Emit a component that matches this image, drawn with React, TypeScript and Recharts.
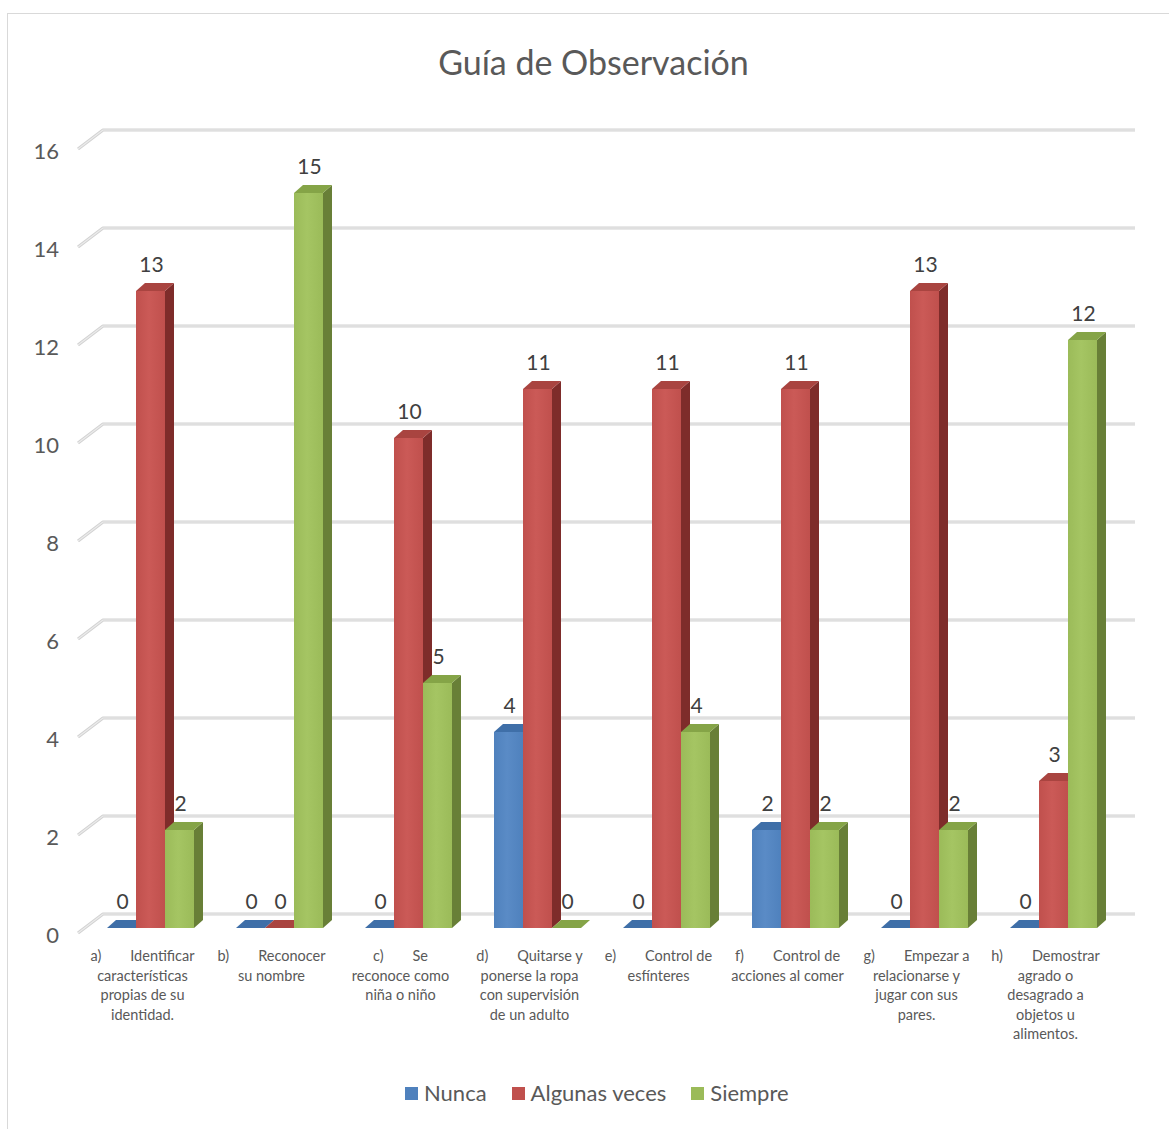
import React from "react";
import { BarChart, Bar, XAxis, YAxis, CartesianGrid, LabelList } from "recharts";

const categories = ["a", "b", "c", "d", "e", "f", "g", "h"];
const nunca = [0, 0, 0, 4, 0, 2, 0, 0];
const algunasVeces = [13, 0, 10, 11, 11, 11, 13, 3];
const siempre = [2, 15, 5, 0, 4, 2, 2, 12];
const yTicks = [0, 2, 4, 6, 8, 10, 12, 14, 16];

// tick label lines: first line = [prefix, word], rest centered lines
const tickHead = [
  ["a)", "Identificar"],
  ["b)", "Reconocer"],
  ["c)", "Se"],
  ["d)", "Quitarse y"],
  ["e)", "Control de"],
  ["f)", "Control de"],
  ["g)", "Empezar a"],
  ["h)", "Demostrar"],
];
const tickRest = [
  ["características", "propias de su", "identidad."],
  ["su nombre"],
  ["reconoce como", "niña o niño"],
  ["ponerse la ropa", "con supervisión", "de un adulto"],
  ["esfínteres"],
  ["acciones al comer"],
  ["relacionarse y", "jugar con sus", "pares."],
  ["agrado o", "desagrado a", "objetos u", "alimentos."],
];

const seriesNames = ["Nunca", "Algunas veces", "Siempre"];

const data = categories.map((c, i) => ({
  cat: c,
  nunca: nunca[i],
  algunas: algunasVeces[i],
  siempre: siempre[i],
}));

const FONT = "Lato, 'Open Sans', sans-serif";
const SHIFT_X = 8;
const SHIFT_Y = -5;
const DX = 9;
const DY = 8;

const palette: Record<string, { front: string; light: string; top: string; side: string }> = {
  nunca: { front: "#4F81BD", light: "#5A8BC6", top: "#3F6FA8", side: "#36598A" },
  algunas: { front: "#C0504D", light: "#CB5A57", top: "#A94440", side: "#7E2C2A" },
  siempre: { front: "#9BBB59", light: "#A5C563", top: "#85A447", side: "#687F37" },
};

const makeShape = (key: string) => (props: any) => {
  const { x, y, width, height } = props;
  const c = palette[key];
  const fx = x + SHIFT_X;
  const fy = y + SHIFT_Y;
  const h = Math.max(0, height || 0);
  const gid = `grad-${key}`;
  return (
    <g>
      <defs>
        <linearGradient id={gid} x1="0" y1="0" x2="1" y2="0">
          <stop offset="0%" stopColor={c.front} />
          <stop offset="45%" stopColor={c.light} />
          <stop offset="100%" stopColor={c.front} />
        </linearGradient>
      </defs>
      {h > 0 && <rect x={fx} y={fy} width={width} height={h} fill={`url(#${gid})`} />}
      {h > 0 && (
        <polygon
          points={`${fx + width},${fy} ${fx + width + DX},${fy - DY} ${fx + width + DX},${fy + h - DY} ${fx + width},${fy + h}`}
          fill={c.side}
        />
      )}
      <polygon
        points={`${fx},${fy} ${fx + DX},${fy - DY} ${fx + width + DX},${fy - DY} ${fx + width},${fy}`}
        fill={c.top}
      />
    </g>
  );
};

const renderLabel = (props: any) => {
  const { x, y, width, value } = props;
  const cx = x + width / 2 + SHIFT_X + 1;
  return (
    <text x={cx} y={y + SHIFT_Y - 19} textAnchor="middle" fill="#404040" fontSize={21} fontFamily={FONT}>
      {value}
    </text>
  );
};

const gridLine = (props: any) => {
  const { x1, y1, x2, key } = props;
  const d = `M ${x1} ${y1} L ${x1 + 25} ${y1 - 19} L ${x2 + 25} ${y1 - 19}`;
  return (
    <g key={key}>
      <path d={d} stroke="#d2d2d2" strokeWidth={3.2} fill="none" strokeLinejoin="round" />
      <path d={d} stroke="#ebebeb" strokeWidth={1.1} fill="none" strokeLinejoin="round" />
    </g>
  );
};

const YTick = (props: any) => {
  const { x, y, payload } = props;
  return (
    <text x={x - 19} y={y + 10} textAnchor="end" fill="#595959" fontSize={22} fontFamily={FONT}>
      {payload.value}
    </text>
  );
};

const XTick = (props: any) => {
  const { x, y, payload } = props;
  const i = payload.index ?? categories.indexOf(payload.value);
  const head = tickHead[i];
  const rest = tickRest[i];
  const base = y + 28;
  return (
    <g>
      <text x={x} y={base} textAnchor="middle" fill="#595959" fontSize={14.5} fontFamily={FONT}>
        <tspan>{head[0]}</tspan>
        <tspan dx={29}>{head[1]}</tspan>
      </text>
      {rest.map((line, k) => (
        <text
          key={k}
          x={x}
          y={base + 19.5 * (k + 1)}
          textAnchor="middle"
          fill="#595959"
          fontSize={14.5}
          fontFamily={FONT}
        >
          {line}
        </text>
      ))}
    </g>
  );
};

const legendColors = [palette.nunca.front, palette.algunas.front, palette.siempre.front];

export default function App() {
  return (
    <div
      style={{
        position: "absolute",
        left: 0,
        top: 0,
        width: 1169,
        height: 1129,
        background: "#fff",
        overflow: "hidden",
        fontFamily: FONT,
      }}
    >
      <div
        style={{
          position: "absolute",
          left: 7,
          top: 13,
          width: 1180,
          height: 1140,
          border: "1.5px solid #d9d9d9",
          boxSizing: "border-box",
        }}
      />
      <div
        style={{
          position: "absolute",
          left: 9,
          top: 41,
          width: 1169,
          textAlign: "center",
          fontSize: 34,
          color: "#595959",
          lineHeight: "42px",
        }}
      >
        Guía de Observación
      </div>
      <div style={{ position: "absolute", left: 0, top: 0 }}>
        <BarChart
          width={1169}
          height={1129}
          data={data}
          margin={{ top: 149, right: 59, left: 8, bottom: 46 }}
          barGap={0}
          barSize={29}
        >
          <CartesianGrid vertical={false} horizontal={gridLine} />
          <XAxis
            dataKey="cat"
            tickLine={false}
            axisLine={false}
            interval={0}
            height={150}
            tickSize={0}
            tickMargin={0}
            tick={<XTick />}
          />
          <YAxis
            domain={[0, 16]}
            ticks={yTicks}
            width={70}
            tickLine={false}
            axisLine={false}
            tickSize={0}
            tickMargin={0}
            tick={<YTick />}
          />
          <Bar dataKey="nunca" name={seriesNames[0]} fill={palette.nunca.front} shape={makeShape("nunca")} isAnimationActive={false}>
            <LabelList dataKey="nunca" content={renderLabel} />
          </Bar>
          <Bar dataKey="algunas" name={seriesNames[1]} fill={palette.algunas.front} shape={makeShape("algunas")} isAnimationActive={false}>
            <LabelList dataKey="algunas" content={renderLabel} />
          </Bar>
          <Bar dataKey="siempre" name={seriesNames[2]} fill={palette.siempre.front} shape={makeShape("siempre")} isAnimationActive={false}>
            <LabelList dataKey="siempre" content={renderLabel} />
          </Bar>
        </BarChart>
      </div>
      <div
        style={{
          position: "absolute",
          left: 405,
          top: 1077,
          display: "flex",
          alignItems: "center",
          fontSize: 22,
          color: "#595959",
          lineHeight: "32px",
        }}
      >
        {seriesNames.map((n, i) => (
          <div key={n} style={{ display: "flex", alignItems: "center", marginRight: i < 2 ? 25 : 0 }}>
            <span style={{ display: "inline-block", width: 13, height: 13, background: legendColors[i], marginRight: 6 }} />
            <span>{n}</span>
          </div>
        ))}
      </div>
    </div>
  );
}
